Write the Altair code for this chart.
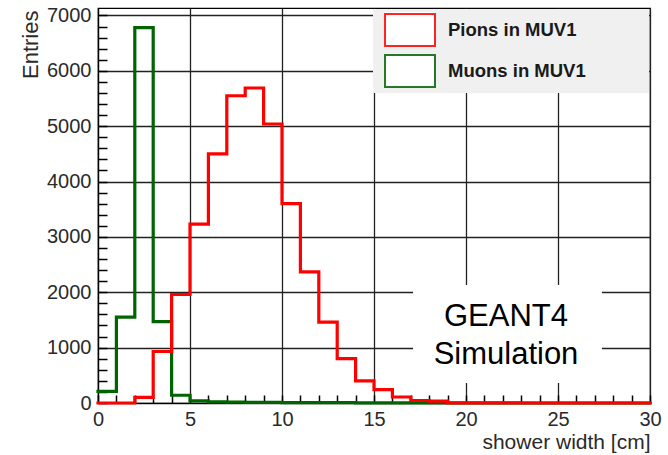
import altair as alt
import pandas as pd

# ---- data (bin width 1 cm) ----
bin_low = list(range(30))
pions = [0, 0, 100, 930, 1960, 3230, 4500, 5550, 5690, 5040,
         3600, 2370, 1460, 800, 400, 240, 108, 45, 35, 3,
         2, 1, 1, 0, 0, 0, 0, 0, 0, 0]
muons = [210, 1550, 6780, 1470, 140, 40, 22, 15, 12, 10,
         8, 7, 6, 5, 4, 3, 3, 2, 2, 0,
         0, 0, 0, 0, 0, 0, 0, 0, 0, 0]
series = ["Pions in MUV1", "Muons in MUV1"]
colors = ["#ff0000", "#006400"]
x_ticks = [0, 5, 10, 15, 20, 25, 30]
y_ticks = [0, 1000, 2000, 3000, 4000, 5000, 6000, 7000]
x_minor = list(range(0, 31))
y_minor = list(range(0, 7001, 200))
annotation = ["GEANT4", "Simulation"]

FONT = "Liberation Sans"


def steps(vals, name):
    return pd.DataFrame({"x": bin_low + [30], "y": vals + [vals[-1]], "series": name})


df_pi = steps(pions, series[0])
df_mu = steps(muons, series[1])

xscale = alt.Scale(domain=[0, 30], nice=False, zero=False)
yscale = alt.Scale(domain=[0, 7135], nice=False)
cscale = alt.Scale(domain=series, range=colors)

x_main = alt.Axis(values=x_ticks, format="d", grid=True, gridColor="#222222", gridWidth=1.3,
                  ticks=False, domainColor="black", domainWidth=1.2, labelFlush=False,
                  labelOverlap=False, labelFont=FONT, labelFontSize=20, labelColor="#2a2a2a",
                  labelPadding=6, title="shower width [cm]", titleFont=FONT, titleFontSize=21,
                  titleFontWeight="normal", titleColor="#2a2a2a", titleAlign="right",
                  titleBaseline="alphabetic", titleX=552, titleY=45)
y_main = alt.Axis(values=y_ticks, format="d", grid=True, gridColor="#222222", gridWidth=1.3,
                  ticks=False, domainColor="black", domainWidth=1.2, labelFlush=False,
                  labelOverlap=False, labelFont=FONT, labelFontSize=20, labelColor="#2a2a2a",
                  labelPadding=7, title="Entries", titleFont=FONT, titleFontSize=22,
                  titleFontWeight="normal", titleColor="#2a2a2a", titleAngle=270,
                  titleAlign="right", titleBaseline="alphabetic", titleX=-61, titleY=2)

# inner minor ticks: axes on the opposite side, pulled across the plot so their
# outward-pointing ticks end up pointing into the frame from the bottom / left edges
x_minor_axis = alt.Axis(orient="top", offset=-395, values=x_minor, tickSize=8,
                        tickColor="black", tickWidth=1.5, labels=False, domain=False,
                        grid=False, title=None)
y_minor_axis = alt.Axis(orient="right", offset=-552, values=y_minor, tickSize=9,
                        tickColor="black", tickWidth=1.5, labels=False, domain=False,
                        grid=False, title=None)

legend = alt.Legend(orient="none", legendX=295, legendY=5, title=None,
                    symbolType="M-1.5625,-1L1.5625,-1L1.5625,1L-1.5625,1Z", symbolSize=1024,
                    symbolStrokeWidth=2, symbolOpacity=0.85,
                    labelFont=FONT, labelFontSize=18.5, labelFontWeight="bold",
                    labelColor="#1a1a1a", labelOffset=21, rowPadding=1, padding=0)

legend_bg = alt.Chart(pd.DataFrame({"k": [0]})).mark_rect(fill="#f0f0f0").encode(
    x=alt.value(275), x2=alt.value(551), y=alt.value(1), y2=alt.value(85))
swatch_bg1 = alt.Chart(pd.DataFrame({"k": [1]})).mark_rect(fill="#ffffff").encode(
    x=alt.value(286), x2=alt.value(336), y=alt.value(4), y2=alt.value(37))
swatch_bg2 = alt.Chart(pd.DataFrame({"k": [2]})).mark_rect(fill="#ffffff").encode(
    x=alt.value(286), x2=alt.value(336), y=alt.value(46), y2=alt.value(79))
text_bg = alt.Chart(pd.DataFrame({"k": [3]})).mark_rect(fill="white").encode(
    x=alt.value(315), x2=alt.value(504), y=alt.value(277), y2=alt.value(375))
text = alt.Chart(pd.DataFrame({"label": ["\n".join(annotation)]})).mark_text(
    align="center", baseline="alphabetic", lineBreak="\n", lineHeight=38,
    font=FONT, fontSize=31, color="black").encode(
    x=alt.value(408), y=alt.value(318), text="label:N")

green = alt.Chart(df_mu).mark_line(interpolate="step-after", strokeWidth=3.2,
                                   strokeJoin="miter", strokeCap="square").encode(
    x=alt.X("x:Q", scale=xscale, axis=x_main),
    y=alt.Y("y:Q", scale=yscale, axis=y_main),
    color=alt.Color("series:N", scale=cscale, legend=legend))
red = alt.Chart(df_pi).mark_line(interpolate="step-after", strokeWidth=3.2,
                                 strokeJoin="miter", strokeCap="square").encode(
    x=alt.X("x:Q", scale=xscale, axis=x_minor_axis),
    y=alt.Y("y:Q", scale=yscale, axis=y_minor_axis),
    color=alt.Color("series:N", scale=cscale, legend=legend))

chart = alt.layer(legend_bg, swatch_bg1, swatch_bg2, text_bg, text,
                  green, red).resolve_axis(x="independent", y="independent").properties(
    width=552, height=395,
    padding={"left": 98, "top": 8, "right": 18, "bottom": 52},
    autosize=alt.AutoSizeParams(type="none"),
    background="white",
).configure_view(stroke="black", strokeWidth=1.2)

chart.save("out.html", embed_options={"renderer": "svg", "actions": False})
